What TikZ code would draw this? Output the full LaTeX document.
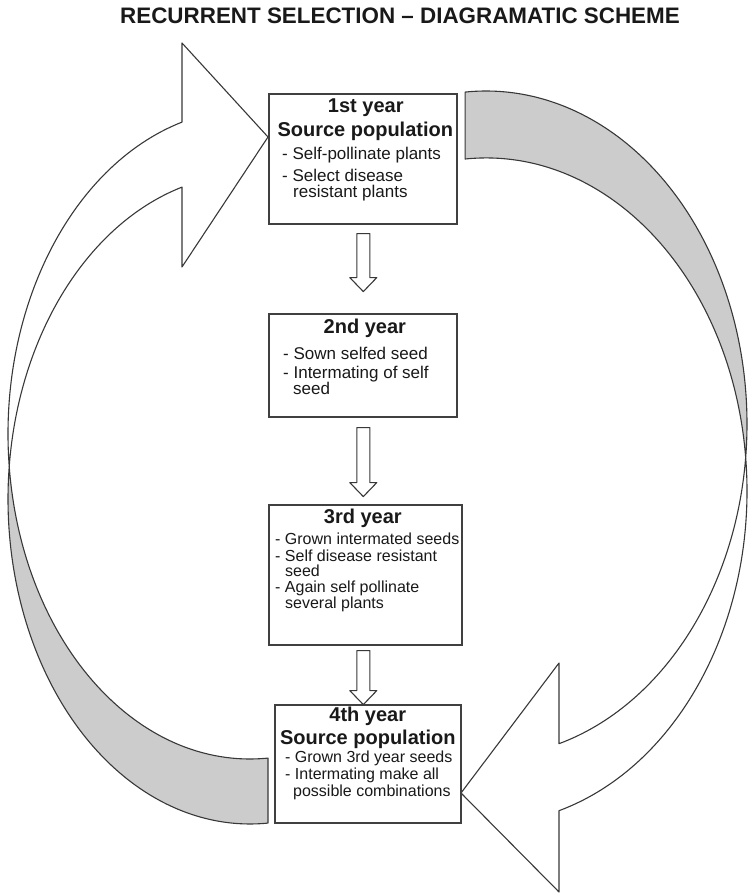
\documentclass[tikz,border=0pt]{standalone}
\usepackage{fontspec}
\setmainfont{Liberation Sans}
\usetikzlibrary{calc}
\begin{document}
\begin{tikzpicture}[x=1pt,y=1pt,
  outline/.style={draw=black!78, line width=1.1pt, line join=round},
  backface/.style={outline, fill=black!20},
  frontface/.style={outline, fill=white},
  yearbox/.style={draw=black!75, line width=1.6pt, fill=white, inner sep=0pt, anchor=north west},
  head/.style={anchor=base, inner sep=0pt, font=\fontsize{20}{24}\selectfont\bfseries, text=black!90},
  itemA/.style={anchor=base west, inner sep=0pt, font=\fontsize{17}{20}\selectfont, text=black!90},
  itemB/.style={anchor=base west, inner sep=0pt, font=\fontsize{16}{19}\selectfont, text=black!90},
  pics/blockdown/.style={code={
    \draw[outline, fill=white] (-6.5,0) -- (-6.5,{-#1+14}) -- (-13.5,{-#1+14}) -- (0,-#1)
      -- (13.5,{-#1+14}) -- (6.5,{-#1+14}) -- (6.5,0) -- cycle;}}
]
\useasboundingbox (0,0) rectangle (747,893);

% title
\node[anchor=base, inner sep=0pt, text=black!90, font=\fontsize{22.4}{26}\selectfont\bfseries]
  (title) at (400,869) {RECURRENT SELECTION – DIAGRAMATIC SCHEME};

% left circular arrow: two ellipse edges crossing near the leftmost point
\coordinate (Lc1) at (250,394);
\coordinate (Lc2) at (250,459);
\filldraw[backface] ($(Lc1)+(-85.73:242pt and 325pt)$)
  arc[start angle=-85.73, end angle=-185.74, x radius=242pt, y radius=325pt]
  arc[start angle=-174.26, end angle=-85.73, x radius=242pt, y radius=325pt] -- cycle;
\filldraw[frontface] ($(Lc2)+(-174.26:242pt and 325pt)$)
  arc[start angle=-174.26, end angle=-253.68, x radius=242pt, y radius=325pt]
  -- (182,850) -- (268,756) -- (182,626)
  -- ($(Lc1)+(-253.68:242pt and 325pt)$)
  arc[start angle=-253.68, end angle=-185.74, x radius=242pt, y radius=325pt] -- cycle;

% right circular arrow
\coordinate (Rc3) at (486,469);
\coordinate (Rc4) at (486,402);
\filldraw[backface] ($(Rc3)+(94.6:261pt and 333pt)$)
  arc[start angle=94.6, end angle=-5.77, x radius=261pt, y radius=333pt]
  arc[start angle=5.77, end angle=94.6, x radius=261pt, y radius=333pt] -- cycle;
\filldraw[frontface] ($(Rc4)+(5.77:261pt and 333pt)$)
  arc[start angle=5.77, end angle=-73.76, x radius=261pt, y radius=333pt]
  -- (559,1) -- (461,100) -- (559,230)
  -- ($(Rc3)+(-73.76:261pt and 333pt)$)
  arc[start angle=-73.76, end angle=-5.77, x radius=261pt, y radius=333pt] -- cycle;

% year boxes
\node[yearbox, minimum width=188pt, minimum height=130pt] (b1) at (268,800) {};
\node[yearbox, minimum width=188pt, minimum height=103pt] (b2) at (268,580) {};
\node[yearbox, minimum width=193pt, minimum height=140pt] (b3) at (268,389) {};
\node[yearbox, minimum width=186pt, minimum height=118pt] (b4) at (274,189) {};

% box texts
\node[head] (t1a) at ($(b1.north)+(3,-20)$) {1st year};
\node[head] (t1b) at ($(b1.north)+(2.5,-44)$) {Source population};
\node[itemA] (t1c) at ($(b1.north west)+(14,-67)$) {- Self-pollinate plants};
\node[itemA] (t1d) at ($(b1.north west)+(14,-89)$) {- Select disease};
\node[itemA] (t1e) at ($(b1.north west)+(25,-105)$) {resistant plants};

\node[head] (t2a) at ($(b2.north)+(2,-21)$) {2nd year};
\node[itemA] (t2b) at ($(b2.north west)+(15,-47)$) {- Sown selfed seed};
\node[itemA] (t2c) at ($(b2.north west)+(15,-66)$) {- Intermating of self};
\node[itemA] (t2d) at ($(b2.north west)+(25,-82)$) {seed};

\node[head] (t3a) at ($(b3.north)+(-2.5,-20)$) {3rd year};
\node[itemB] (t3b) at ($(b3.north west)+(7,-41)$) {- Grown intermated seeds};
\node[itemB] (t3c) at ($(b3.north west)+(7,-58)$) {- Self disease resistant};
\node[itemB] (t3d) at ($(b3.north west)+(17,-73)$) {seed};
\node[itemB] (t3e) at ($(b3.north west)+(7,-89)$) {- Again self pollinate};
\node[itemB] (t3f) at ($(b3.north west)+(17,-105)$) {several plants};

\node[head] (t4a) at ($(b4.north)+(0,-18)$) {4th year};
\node[head] (t4b) at ($(b4.north)+(0,-41)$) {Source population};
\node[itemB] (t4c) at ($(b4.north west)+(11,-59)$) {- Grown 3rd year seeds};
\node[itemB] (t4d) at ($(b4.north west)+(11,-76)$) {- Intermating make all};
\node[itemB] (t4e) at ($(b4.north west)+(19,-93)$) {possible combinations};

% block arrows between the years
\pic (a12) at ($(b1.south)+(0.5,-9)$) {blockdown=58};
\pic (a23) at ($(b2.south)+(0.5,-10)$) {blockdown=69};
\pic (a34) at ($(b3.south)+(-2,-5)$) {blockdown=54};
\end{tikzpicture}
\end{document}
